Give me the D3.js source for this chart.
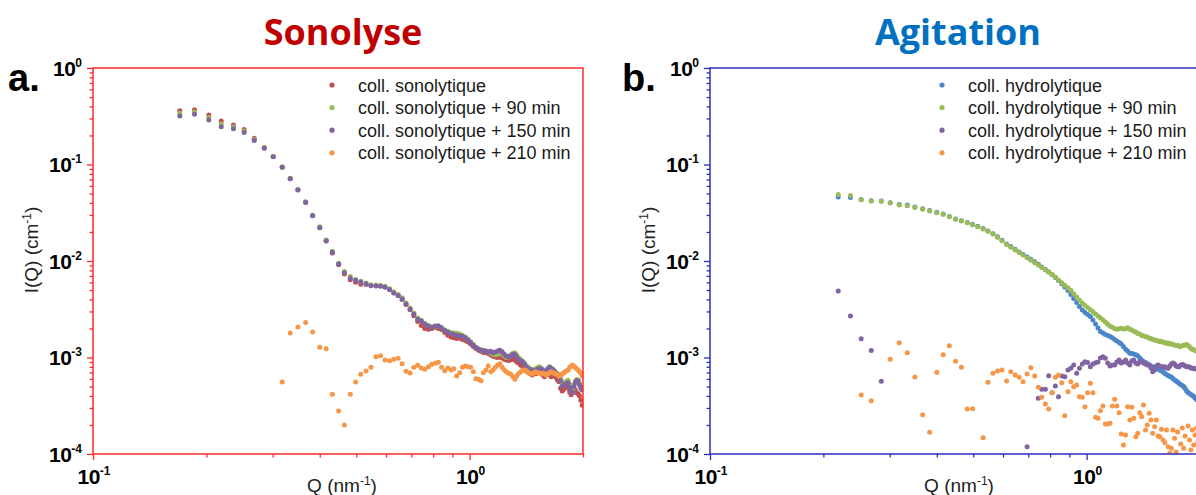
<!DOCTYPE html>
<html>
<head>
<meta charset="utf-8">
<script src="https://cdn.jsdelivr.net/npm/d3@7"></script>
<style>
  body { margin: 0; background: #fff; }
  text { font-family: "Liberation Sans", Arial, sans-serif; }
</style>
</head>
<body>
<svg id="chart" width="1196" height="495"></svg>
<script>
// scattering vector grid (nm^-1), shared by every curve
var qValues = [0.170, 0.186, 0.203, 0.219, 0.236, 0.252, 0.268, 0.285, 0.301, 0.318,
    0.334, 0.350, 0.367, 0.383, 0.400, 0.416, 0.432, 0.449, 0.465, 0.482,
    0.498, 0.514, 0.531, 0.547, 0.564, 0.580, 0.596, 0.613, 0.629, 0.646,
    0.662, 0.678, 0.695, 0.711, 0.728, 0.744, 0.760, 0.777, 0.793, 0.810,
    0.826, 0.842, 0.859, 0.875, 0.892, 0.908, 0.924, 0.941, 0.957, 0.974,
    0.990, 1.006, 1.023, 1.039, 1.056, 1.072, 1.088, 1.105, 1.121, 1.138,
    1.154, 1.170, 1.187, 1.203, 1.220, 1.236, 1.252, 1.269, 1.285, 1.302,
    1.318, 1.334, 1.351, 1.367, 1.384, 1.400, 1.416, 1.433, 1.449, 1.466,
    1.482, 1.498, 1.515, 1.531, 1.548, 1.564, 1.580, 1.597, 1.613, 1.630,
    1.646, 1.662, 1.679, 1.695, 1.712, 1.728, 1.744, 1.761, 1.777, 1.794,
    1.810, 1.826, 1.843, 1.859, 1.876, 1.892, 1.908, 1.925, 1.941, 1.958,
    1.974, 1.990];

// panel a : sonolyse
var sonolytique = [0.361, 0.370, 0.326, 0.282, 0.257, 0.230, 0.187, 0.150, 0.121, 0.0940,
    0.0715, 0.0548, 0.0405, 0.0296, 0.0222, 0.0161, 0.0121, 0.00915, 0.00735, 0.00640,
    0.00602, 0.00575, 0.00570, 0.00560, 0.00560, 0.00555, 0.00540, 0.00510, 0.00470, 0.00440,
    0.00400, 0.00355, 0.00312, 0.00270, 0.00236, 0.00215, 0.00200, 0.00196, 0.00200, 0.00205,
    0.00200, 0.00195, 0.00182, 0.00170, 0.00163, 0.00160, 0.00157, 0.00158, 0.00154, 0.00150,
    0.00145, 0.00138, 0.00130, 0.00124, 0.00119, 0.00116, 0.00113, 0.00112, 0.00110, 0.00106,
    0.00103, 0.00101, 0.00100, 0.00101, 0.000990, 0.000960, 0.000940, 0.000930, 0.000950, 0.000970,
    0.000940, 0.000900, 0.000870, 0.000830, 0.000800, 0.000760, 0.000720, 0.000700, 0.000680, 0.000660,
    0.000700, 0.000680, 0.000710, 0.000730, 0.000690, 0.000660, 0.000630, 0.000670, 0.000700, 0.000660,
    0.000630, 0.000650, 0.000670, 0.000620, 0.000580, 0.000560, 0.000480, 0.000450, 0.000470, 0.000520,
    0.000500, 0.000480, 0.000440, 0.000410, 0.000450, 0.000480, 0.000460, 0.000430, 0.000420, 0.000400,
    0.000360, 0.000320];
var sonolytique90 = [0.340, 0.350, 0.307, 0.263, 0.245, 0.222, 0.182, 0.149, 0.121, 0.0940,
    0.0720, 0.0550, 0.0412, 0.0298, 0.0226, 0.0165, 0.0126, 0.00950, 0.00780, 0.00690,
    0.00645, 0.00615, 0.00590, 0.00565, 0.00560, 0.00556, 0.00545, 0.00515, 0.00480, 0.00450,
    0.00415, 0.00368, 0.00325, 0.00290, 0.00256, 0.00243, 0.00226, 0.00214, 0.00208, 0.00210,
    0.00213, 0.00205, 0.00194, 0.00187, 0.00182, 0.00180, 0.00178, 0.00175, 0.00170, 0.00163,
    0.00155, 0.00146, 0.00136, 0.00128, 0.00123, 0.00120, 0.00119, 0.00117, 0.00114, 0.00112,
    0.00108, 0.00107, 0.00108, 0.00111, 0.00109, 0.00104, 0.00100, 0.00102, 0.00106, 0.00111,
    0.00112, 0.00106, 0.00099, 0.00095, 0.00091, 0.00087, 0.00082, 0.00079, 0.00076, 0.00075,
    0.00074, 0.00077, 0.00079, 0.00080, 0.00078, 0.00075, 0.00072, 0.00071, 0.00076, 0.00080,
    0.00078, 0.00076, 0.00073, 0.00070, 0.00068, 0.00066, 0.00061, 0.00056, 0.00054, 0.00055,
    0.00057, 0.00058, 0.00053, 0.00049, 0.00047, 0.00052, 0.00057, 0.00059, 0.00058, 0.00054,
    0.00050, 0.00047];
var sonolytique150 = [0.318, 0.331, 0.289, 0.246, 0.235, 0.214, 0.177, 0.147, 0.120, 0.0935,
    0.0713, 0.0545, 0.0406, 0.0295, 0.0221, 0.0162, 0.0123, 0.00931, 0.00757, 0.00662,
    0.00631, 0.00606, 0.00582, 0.00555, 0.00551, 0.00548, 0.00533, 0.00505, 0.00466, 0.00439,
    0.00404, 0.00358, 0.00316, 0.00281, 0.00249, 0.00239, 0.00222, 0.00212, 0.00205, 0.00212,
    0.00212, 0.00202, 0.00190, 0.00183, 0.00176, 0.00173, 0.00170, 0.00168, 0.00165, 0.00160,
    0.00152, 0.00143, 0.00133, 0.00127, 0.00122, 0.00119, 0.00118, 0.00116, 0.00115, 0.00116,
    0.00112, 0.00114, 0.00117, 0.00119, 0.00115, 0.00108, 0.00103, 0.00102, 0.00103, 0.00108,
    0.00108, 0.00101, 0.000955, 0.000928, 0.000896, 0.000846, 0.000791, 0.000766, 0.000745, 0.000732,
    0.000719, 0.000732, 0.000754, 0.000766, 0.000760, 0.000738, 0.000710, 0.000697, 0.000766, 0.000791,
    0.000766, 0.000745, 0.000719, 0.000685, 0.000664, 0.000638, 0.000575, 0.000507, 0.000515, 0.000527,
    0.000540, 0.000548, 0.000491, 0.000446, 0.000432, 0.000499, 0.000548, 0.000575, 0.000575, 0.000519,
    0.000479, 0.000461];
var sonolytique210 = [null, null, null, null, null, null, null, null, null, 0.000557,
    0.00179, 0.00207, 0.00230, 0.00184, 0.00128, 0.00123, 0.000416, 0.000279, 0.000200, 0.000416,
    0.000557, 0.000670, 0.000725, 0.000791, 0.00102, 0.00104, 0.000942, 0.000927, 0.000957, 0.000981,
    0.000863, 0.000720, 0.000691, 0.000791, 0.000830, 0.000778, 0.000755, 0.000803, 0.000851, 0.000871,
    0.000892, 0.000791, 0.000730, 0.000778, 0.000742, 0.000766, 0.000643, 0.000696, 0.000791, 0.000817,
    0.000803, 0.000791, 0.000713, 0.000603, 0.000594, 0.000575, 0.000697, 0.000742, 0.000817, 0.000713,
    0.000742, 0.000791, 0.000836, 0.000860, 0.000791, 0.000742, 0.000713, 0.000686, 0.000675, 0.000633,
    0.000594, 0.000643, 0.000686, 0.000713, 0.000742, 0.000742, 0.000731, 0.000696, 0.000686, 0.000675,
    0.000696, 0.000713, 0.000696, 0.000686, 0.000675, 0.000686, 0.000675, 0.000659, 0.000675, 0.000696,
    0.000713, 0.000696, 0.000686, 0.000675, 0.000659, 0.000643, 0.000659, 0.000675, 0.000696, 0.000713,
    0.000731, 0.000742, 0.000791, 0.000811, 0.000836, 0.000811, 0.000791, 0.000760, 0.000742, 0.000713,
    0.000686, 0.000643];

// panel b : agitation
var hydrolytique = [null, null, null, 0.0460, 0.0455, 0.0435, 0.0420, 0.0418, 0.0402, 0.0384,
    0.0380, 0.0362, 0.0348, 0.0333, 0.0320, 0.0307, 0.0290, 0.0272, 0.0262, 0.0251,
    0.0240, 0.0229, 0.0217, 0.0205, 0.0192, 0.0178, 0.0164, 0.0150, 0.0141, 0.0132,
    0.0124, 0.0117, 0.0110, 0.0104, 0.00980, 0.00925, 0.00868, 0.00816, 0.00770, 0.00719,
    0.00675, 0.00628, 0.00582, 0.00538, 0.00495, 0.00450, 0.00409, 0.00372, 0.00338, 0.00311,
    0.00292, 0.00279, 0.00266, 0.00245, 0.00222, 0.00202, 0.00186, 0.00179, 0.00173, 0.00169,
    0.00165, 0.00160, 0.00154, 0.00148, 0.00143, 0.00138, 0.00130, 0.00122, 0.00117, 0.00111,
    0.00110, 0.00109, 0.00107, 0.00104, 0.000989, 0.000942, 0.000909, 0.000888, 0.000867, 0.000836,
    0.000817, 0.000798, 0.000778, 0.000770, 0.000755, 0.000742, 0.000725, 0.000708, 0.000683, 0.000667,
    0.000651, 0.000636, 0.000628, 0.000606, 0.000585, 0.000571, 0.000557, 0.000538, 0.000525, 0.000513,
    0.000501, 0.000477, 0.000450, 0.000434, 0.000423, 0.000414, 0.000404, 0.000394, 0.000381, 0.000367,
    0.000355, 0.000346];
var hydrolytique90 = [null, null, null, 0.0490, 0.0478, 0.0432, 0.0418, 0.0416, 0.0398, 0.0380,
    0.0374, 0.0358, 0.0344, 0.0330, 0.0317, 0.0305, 0.0288, 0.0270, 0.0260, 0.0249,
    0.0238, 0.0227, 0.0215, 0.0203, 0.0190, 0.0176, 0.0162, 0.0148, 0.0139, 0.0130,
    0.01225, 0.01154, 0.01082, 0.01019, 0.00960, 0.00907, 0.00857, 0.00809, 0.00767, 0.00723,
    0.00678, 0.00637, 0.00596, 0.00561, 0.00527, 0.00498, 0.00459, 0.00423, 0.00392, 0.00366,
    0.00348, 0.00330, 0.00312, 0.00298, 0.00282, 0.00269, 0.00256, 0.00244, 0.00233, 0.00221,
    0.00211, 0.00206, 0.00200, 0.00196, 0.00199, 0.00201, 0.00197, 0.00198, 0.00203, 0.00196,
    0.00193, 0.00187, 0.00184, 0.00177, 0.00175, 0.00169, 0.00168, 0.00164, 0.00163, 0.00158,
    0.00157, 0.00154, 0.00152, 0.00150, 0.00149, 0.00146, 0.00147, 0.00144, 0.00143, 0.00140,
    0.00141, 0.00138, 0.00139, 0.00136, 0.00135, 0.00133, 0.00134, 0.00131, 0.00130, 0.00132,
    0.00134, 0.00135, 0.00136, 0.00133, 0.00129, 0.00125, 0.00122, 0.00120, 0.00118, 0.00117,
    0.00116, 0.00114];
var hydrolytique150 = [null, null, null, 0.00489, 0.00269, 0.00156, 0.00118, 0.000567, null, null,
    null, null, null, null, null, null, null, null, null, null,
    null, null, null, null, null, null, null, null, null, null,
    null, null, 0.000119, null, null, 0.000378, 0.000468, 0.000468, 0.000648, 0.000432,
    0.000507, 0.000393, 0.000643, 0.000633, 0.000742, 0.000773, 0.000836, 0.000686, 0.000773, 0.000857,
    0.000904, 0.000888, 0.000803, 0.000857, 0.000883, 0.000896, 0.000989, 0.00102, 0.000983, 0.000876,
    0.000817, 0.000836, 0.000836, 0.000896, 0.000942, 0.000876, 0.000896, 0.000942, 0.000876, 0.000836,
    0.000919, 0.000942, 0.000876, 0.000857, 0.000896, 0.000904, 0.000876, 0.000857, 0.000836, 0.000836,
    0.000778, 0.000713, 0.000742, 0.000817, 0.000836, 0.000817, 0.000803, 0.000796, 0.000803, 0.000778,
    0.000773, 0.000817, 0.000857, 0.000876, 0.000857, 0.000817, 0.000803, 0.000803, 0.000836, 0.000846,
    0.000836, 0.000817, 0.000803, 0.000803, 0.000796, 0.000778, 0.000773, 0.000773, 0.000762, 0.000762,
    0.000762, 0.000750];
var hydrolytique210 = [null, null, null, null, null, 0.000409, 0.000357, null, 0.000958, 0.00142,
    0.00112, 0.000628, 0.000255, 0.000168, 0.000703, 0.00107, 0.00132, 0.000914, 0.000791, 0.000292,
    0.000294, null, 0.000147, 0.000553, 0.000686, 0.000725, 0.000742, 0.000571, 0.000713, 0.000659,
    0.000623, 0.000561, 0.000675, 0.000784, 0.000643, 0.000491, 0.000387, 0.000330, 0.000293, 0.000432,
    0.000623, 0.000659, 0.000548, 0.000249, 0.000442, 0.000561, 0.000498, 0.000519, 0.000393, 0.000387,
    0.000309, 0.000432, 0.000540, 0.000432, 0.000240, 0.000234, 0.000281, 0.000314, 0.000205, 0.000205,
    0.000208, 0.000314, 0.000369, 0.000314, 0.000268, 0.000161, 0.000124, 0.000157, 0.000309, 0.000225,
    0.000305, 0.000234, 0.000151, 0.000164, 0.000268, 0.000243, 0.000322, 0.000177, 0.000200, 0.000264,
    0.000225, 0.000164, 0.000192, 0.000225, 0.000154, 0.000151, 0.000180, 0.000140, 0.000131, 0.000177,
    0.000119, 0.000102, 0.000115, 0.000177, 0.000146, 0.000105, 0.000169, 0.0000867, 0.000127, 0.000186,
    0.000115, 0.000154, 0.0000953, 0.000195, 0.000140, 0.000110, 0.000177, 0.000124, 0.000157, 0.000186,
    0.000133, 0.000195];

var yMajorTicks = [1, 0.1, 0.01, 0.001, 0.0001];
var yTickExponents = ['0', '-1', '-2', '-3', '-4'];
var xMajorTicks = [0.1, 1];
var xTickExponents = ['-1', '0'];

var sonoNames = ['coll. sonolytique', 'coll. sonolytique + 90 min', 'coll. sonolytique + 150 min', 'coll. sonolytique + 210 min'];
var hydroNames = ['coll. hydrolytique', 'coll. hydrolytique + 90 min', 'coll. hydrolytique + 150 min', 'coll. hydrolytique + 210 min'];
var sonoColors = ['#C0504D', '#9BBB59', '#8064A2', '#F79646'];
var hydroColors = ['#4A86C8', '#9BBB59', '#8064A2', '#F79646'];

var TOP = 68, BOTTOM = 454, PLOT_W = 490;

var svg = d3.select('#chart');
var defs = svg.append('defs');

// minor ticks of a log axis: 2..9 x each decade
var minorTicks = function(lo, hi){
    var out = [];
    for (var e = lo; e < hi; e++) {
        for (var m = 2; m <= 9; m++) out.push(m * Math.pow(10, e));
    }
    return out;
};

var drawPanel = function(p){
    var x = d3.scaleLog().domain([0.1, 2]).range([p.x0, p.x0 + PLOT_W]);
    var y = d3.scaleLog().domain([1e-4, 1]).range([BOTTOM, TOP]);
    var g = svg.append('g');

    defs.append('clipPath').attr('id', 'clip-' + p.id)
        .append('rect')
        .attr('x', p.x0).attr('y', TOP)
        .attr('width', PLOT_W).attr('height', BOTTOM - TOP);

    // title and panel letter
    g.append('text')
        .attr('x', p.titleX).attr('y', 45)
        .attr('text-anchor', 'middle')
        .style('font-family', '"Open Sans", sans-serif')
        .style('font-weight', 'bold')
        .style('font-size', '36px')
        .attr('fill', p.titleColor)
        .text(p.title);
    g.append('text')
        .attr('x', p.letterX).attr('y', 91)
        .style('font-weight', 'bold')
        .style('font-size', '38px')
        .attr('fill', '#000')
        .text(p.letter);

    // data points
    var plot = g.append('g').attr('clip-path', 'url(#clip-' + p.id + ')');
    p.series.forEach(function(vals, i){
        var pts = qValues.map(function(q, j){ return {q: q, v: vals[j]}; })
            .filter(function(d){ return d.v != null; });
        plot.append('g').selectAll('circle')
            .data(pts)
            .enter()
            .append('circle')
            .attr('cx', function(d){ return x(d.q); })
            .attr('cy', function(d){ return y(d.v); })
            .attr('r', 2.5)
            .attr('fill', p.colors[i]);
    });

    // ticks (left + bottom, outward)
    var axes = [
        g.append('g').attr('transform', 'translate(' + p.x0 + ',0)')
            .call(d3.axisLeft(y).tickValues(minorTicks(-4, 0)).tickSize(3.5).tickSizeOuter(0).tickFormat('')),
        g.append('g').attr('transform', 'translate(' + p.x0 + ',0)')
            .call(d3.axisLeft(y).tickValues(yMajorTicks).tickSize(6).tickSizeOuter(0).tickFormat('')),
        g.append('g').attr('transform', 'translate(0,' + BOTTOM + ')')
            .call(d3.axisBottom(x).tickValues([0.2, 0.3, 0.4, 0.5, 0.6, 0.7, 0.8, 0.9, 2]).tickSize(3.5).tickSizeOuter(0).tickFormat('')),
        g.append('g').attr('transform', 'translate(0,' + BOTTOM + ')')
            .call(d3.axisBottom(x).tickValues(xMajorTicks).tickSize(6).tickSizeOuter(0).tickFormat(''))
    ];
    axes.forEach(function(a){
        a.select('.domain').remove();
        a.selectAll('line').attr('stroke', p.frameColor).attr('stroke-width', 1.3);
    });

    // frame
    g.append('rect')
        .attr('x', p.x0).attr('y', TOP)
        .attr('width', PLOT_W).attr('height', BOTTOM - TOP)
        .attr('fill', 'none')
        .attr('stroke', p.frameColor)
        .attr('stroke-width', 1.5);

    // tick labels  10^n
    yMajorTicks.forEach(function(v, i){
        var t = g.append('text')
            .attr('x', p.x0 - 11).attr('y', y(v) + 7.5)
            .attr('text-anchor', 'end')
            .style('font-weight', 'bold').style('font-size', '21px')
            .style('letter-spacing', '-0.5px')
            .attr('fill', '#000');
        t.append('tspan').text('10');
        t.append('tspan').attr('dy', -9).style('font-size', '12px').style('letter-spacing', '0').text(yTickExponents[i]);
    });
    xMajorTicks.forEach(function(v, i){
        var t = g.append('text')
            .attr('x', x(v) + 1).attr('y', 484)
            .attr('text-anchor', 'middle')
            .style('font-weight', 'bold').style('font-size', '21px')
            .style('letter-spacing', '-0.5px')
            .attr('fill', '#000');
        t.append('tspan').text('10');
        t.append('tspan').attr('dy', -9).style('font-size', '12px').style('letter-spacing', '0').text(xTickExponents[i]);
    });

    // axis titles
    var xt = g.append('text')
        .attr('x', p.x0 + PLOT_W / 2 + 4).attr('y', 492)
        .attr('text-anchor', 'middle')
        .style('font-size', '19px').attr('fill', '#222');
    xt.append('tspan').text('Q (nm');
    xt.append('tspan').attr('dy', -7).style('font-size', '12px').text('-1');
    xt.append('tspan').attr('dy', 7).text(')');

    var yt = g.append('text')
        .attr('transform', 'translate(' + (p.x0 - 55) + ',250) rotate(-90)')
        .attr('text-anchor', 'middle')
        .style('font-size', '19px').attr('fill', '#222');
    yt.append('tspan').text('I(Q) (cm');
    yt.append('tspan').attr('dy', -7).style('font-size', '12px').text('-1');
    yt.append('tspan').attr('dy', 7).text(')');

    // legend
    p.names.forEach(function(name, i){
        var ly = 85 + i * 22.6;
        g.append('circle')
            .attr('cx', p.legendX).attr('cy', ly).attr('r', 2.6)
            .attr('fill', p.colors[i]);
        g.append('text')
            .attr('x', p.legendX + 26).attr('y', ly + 6.5)
            .style('font-size', '18px').attr('fill', '#1a1a1a')
            .text(name);
    });
};

drawPanel({
    id: 'a', x0: 93, title: 'Sonolyse', titleX: 343, titleColor: '#C00000',
    letter: 'a.', letterX: 8, frameColor: '#FF2A2A', legendX: 332,
    names: sonoNames, colors: sonoColors,
    series: [sonolytique, sonolytique90, sonolytique150, sonolytique210]
});
drawPanel({
    id: 'b', x0: 710, title: 'Agitation', titleX: 958, titleColor: '#0070C0',
    letter: 'b.', letterX: 622, frameColor: '#2E2EBF', legendX: 942,
    names: hydroNames, colors: hydroColors,
    series: [hydrolytique, hydrolytique90, hydrolytique150, hydrolytique210]
});
</script>
</body>
</html>
